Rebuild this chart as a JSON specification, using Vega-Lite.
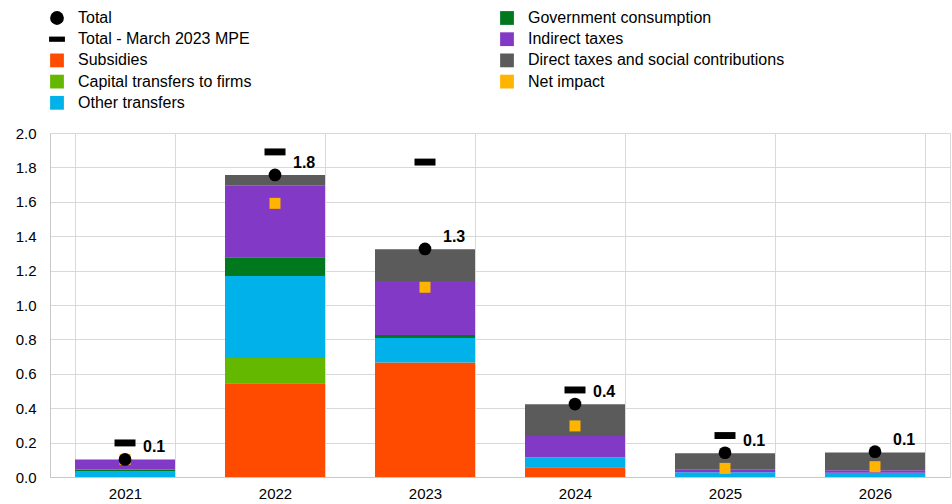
{
  "$schema": "https://vega.github.io/schema/vega-lite/v6.json",
  "width": 900,
  "height": 344,
  "autosize": {"type": "none"},
  "padding": {"left": 50, "top": 133, "right": 2, "bottom": 27},
  "config": {
    "font": "Liberation Sans",
    "view": {"stroke": "#d9d9d9"},
    "axis": {"labelColor": "#000000", "labelFontSize": 15, "gridColor": "#d9d9d9", "domainColor": "#c8c8c8", "ticks": false, "title": null},
    "legend": {"labelFontSize": 16, "labelColor": "#000000"}
  },
  "data": {
    "values": [
      {"year": "2021", "series": "Other transfers", "value": 0.032},
      {"year": "2021", "series": "Government consumption", "value": 0.012},
      {"year": "2021", "series": "Indirect taxes", "value": 0.058},
      {"year": "2021", "series": "Total", "value": 0.102},
      {"year": "2021", "series": "Total - March 2023 MPE", "value": 0.198},
      {"year": "2021", "series": "Net impact", "value": 0.102},
      {"year": "2022", "series": "Subsidies", "value": 0.545},
      {"year": "2022", "series": "Capital transfers to firms", "value": 0.147},
      {"year": "2022", "series": "Other transfers", "value": 0.477},
      {"year": "2022", "series": "Government consumption", "value": 0.108},
      {"year": "2022", "series": "Indirect taxes", "value": 0.417},
      {"year": "2022", "series": "Direct taxes and social contributions", "value": 0.062},
      {"year": "2022", "series": "Total", "value": 1.756},
      {"year": "2022", "series": "Total - March 2023 MPE", "value": 1.89},
      {"year": "2022", "series": "Net impact", "value": 1.591},
      {"year": "2023", "series": "Subsidies", "value": 0.665},
      {"year": "2023", "series": "Other transfers", "value": 0.143},
      {"year": "2023", "series": "Government consumption", "value": 0.018},
      {"year": "2023", "series": "Indirect taxes", "value": 0.314},
      {"year": "2023", "series": "Direct taxes and social contributions", "value": 0.184},
      {"year": "2023", "series": "Total", "value": 1.326},
      {"year": "2023", "series": "Total - March 2023 MPE", "value": 1.831},
      {"year": "2023", "series": "Net impact", "value": 1.103},
      {"year": "2024", "series": "Subsidies", "value": 0.056},
      {"year": "2024", "series": "Other transfers", "value": 0.059},
      {"year": "2024", "series": "Indirect taxes", "value": 0.123},
      {"year": "2024", "series": "Direct taxes and social contributions", "value": 0.185},
      {"year": "2024", "series": "Total", "value": 0.424},
      {"year": "2024", "series": "Total - March 2023 MPE", "value": 0.506},
      {"year": "2024", "series": "Net impact", "value": 0.297},
      {"year": "2025", "series": "Other transfers", "value": 0.027},
      {"year": "2025", "series": "Indirect taxes", "value": 0.018},
      {"year": "2025", "series": "Direct taxes and social contributions", "value": 0.093},
      {"year": "2025", "series": "Total", "value": 0.141},
      {"year": "2025", "series": "Total - March 2023 MPE", "value": 0.241},
      {"year": "2025", "series": "Net impact", "value": 0.05},
      {"year": "2026", "series": "Other transfers", "value": 0.025},
      {"year": "2026", "series": "Indirect taxes", "value": 0.014},
      {"year": "2026", "series": "Direct taxes and social contributions", "value": 0.104},
      {"year": "2026", "series": "Total", "value": 0.147},
      {"year": "2026", "series": "Net impact", "value": 0.06}
    ]
  },
  "encoding": {
    "x": {
      "field": "year", "type": "ordinal",
      "scale": {"paddingInner": 0.3333, "paddingOuter": 0.1667},
      "axis": {"labelAngle": 0, "grid": true, "tickBand": "extent", "labelPadding": 9}
    },
    "y": {
      "field": "value", "type": "quantitative",
      "scale": {"domain": [0, 2], "nice": false},
      "axis": {"values": [0, 0.2, 0.4, 0.6, 0.8, 1.0, 1.2, 1.4, 1.6, 1.8, 2.0], "format": ".1f", "labelPadding": 14}
    },
    "color": {
      "field": "series", "type": "nominal",
      "scale": {
        "domain": ["Total", "Total - March 2023 MPE", "Subsidies", "Capital transfers to firms", "Other transfers", "Government consumption", "Indirect taxes", "Direct taxes and social contributions", "Net impact"],
        "range": ["#000000", "#000000", "#FF4B00", "#65B800", "#00B1EA", "#00781E", "#8139C6", "#5B5B5B", "#FFB400"]
      },
      "legend": {
        "title": null, "orient": "none", "legendX": -1, "legendY": -123, "columns": 2, "columnPadding": 247,
        "rowPadding": 5.2, "symbolSize": 190, "labelOffset": 13, "symbolStrokeWidth": 0, "padding": 0, "labelLimit": 400
      }
    }
  },
  "layer": [
    {
      "transform": [
        {"filter": "indexof(['Subsidies','Capital transfers to firms','Other transfers','Government consumption','Indirect taxes','Direct taxes and social contributions'], datum.series) >= 0"},
        {"calculate": "indexof(['Subsidies','Capital transfers to firms','Other transfers','Government consumption','Indirect taxes','Direct taxes and social contributions'], datum.series)", "as": "k"}
      ],
      "mark": {"type": "bar"},
      "encoding": {
        "y": {"field": "value", "type": "quantitative", "aggregate": "sum", "stack": "zero"},
        "order": {"field": "k", "type": "quantitative", "sort": "ascending"}
      }
    },
    {
      "transform": [{"filter": "datum.series === 'Net impact'"}],
      "mark": {"type": "point", "filled": true, "opacity": 1, "size": 121},
      "encoding": {
        "shape": {"field": "series", "type": "nominal",
          "scale": {
            "domain": ["Total", "Total - March 2023 MPE", "Subsidies", "Capital transfers to firms", "Other transfers", "Government consumption", "Indirect taxes", "Direct taxes and social contributions", "Net impact"],
            "range": ["circle", "M-1.15,-0.38H1.15V0.38H-1.15Z", "square", "square", "square", "square", "square", "square", "square"]
          }
        }
      }
    },
    {
      "transform": [{"filter": "datum.series === 'Total - March 2023 MPE'"}],
      "mark": {"type": "point", "filled": true, "opacity": 1, "size": 333},
      "encoding": {"shape": {"field": "series", "type": "nominal"}}
    },
    {
      "transform": [{"filter": "datum.series === 'Total'"}],
      "mark": {"type": "point", "filled": true, "opacity": 1, "size": 161},
      "encoding": {"shape": {"field": "series", "type": "nominal"}}
    },
    {
      "transform": [{"filter": "datum.series === 'Total'"}],
      "mark": {"type": "text", "align": "left", "baseline": "middle", "dx": 18, "dy": -12, "fontWeight": "bold", "fontSize": 16, "color": "#000000"},
      "encoding": {
        "text": {"field": "value", "type": "quantitative", "format": ".1f"},
        "color": {"value": "#000000"}
      }
    }
  ]
}
